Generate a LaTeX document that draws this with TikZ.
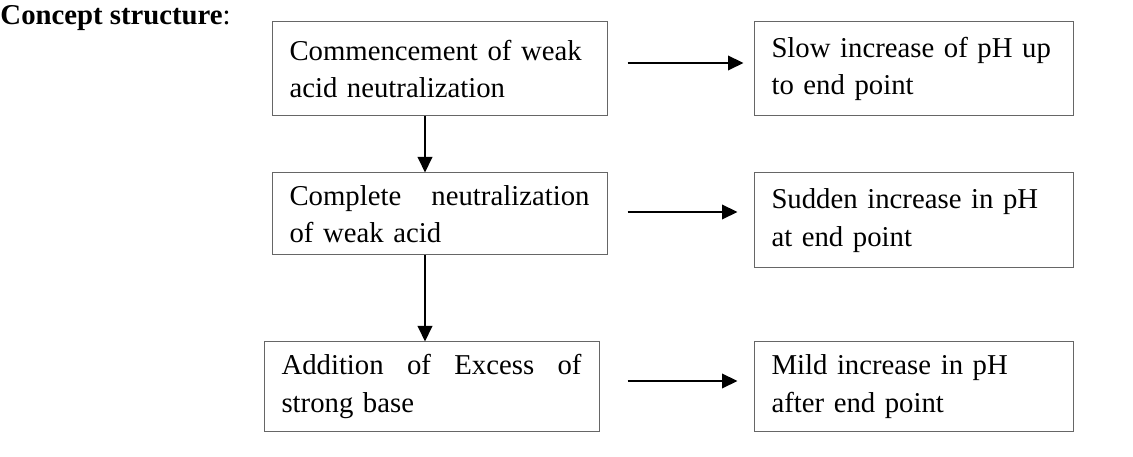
\documentclass[tikz,border=0pt]{standalone}
\usepackage{fontspec}
\setmainfont{Liberation Serif}
\usetikzlibrary{positioning,arrows.meta}

\begin{document}
\begin{tikzpicture}[%
    x=0.4pt,
    y=-0.4pt,
    >={Triangle[length=6.2pt,width=5.8pt]},
    node distance=58.4pt,
    box/.style={%
      rectangle,
      draw=black!60,
      line width=0.4pt,
      font=\fontsize{11.5}{15}\selectfont,
      align=left,
      inner xsep=7pt,
      inner ysep=0pt
    },
    leftbox/.style={box, text width=120pt, minimum height=#1},
    rightbox/.style={box, text width=113.6pt, minimum height=#1},
    flow/.style={->, line width=0.8pt}
  ]
    \useasboundingbox (0,0) rectangle (1133,457);

    \node[anchor=base west, inner sep=0pt, font=\fontsize{11.5}{15}\selectfont] (title) at (0,25) {\textbf{Concept structure}:};

    \node[leftbox=37.6pt] (comm) at (439.5,69)                                  {Commencement of weak\\acid neutralization};
    \node[rightbox=37.6pt, right=of comm.north east, anchor=north west] (slow)     {Slow increase of pH up\\to end point};
    \node[leftbox=32.8pt, below=22.4pt of comm] (compl)                          {Complete\hfill neutralization\\of weak acid};
    \node[rightbox=38pt, right=of compl.north east, anchor=north west] (sudden)    {Sudden increase in pH\\at end point};
    \node[leftbox=35.6pt, below=34.4pt of compl, xshift=-3.2pt] (excess)         {Addition\hfill of\hfill Excess\hfill of\\strong base};
    \node[rightbox=35.6pt, right=61.6pt of excess.north east, anchor=north west] (mild) {Mild increase in pH\\after end point};

    \draw[flow] ([xshift=-5.8pt]comm.south) -- ([xshift=-5.8pt]comm.south |- compl.north);
    \draw[flow] ([xshift=-5.8pt]compl.south) -- ([xshift=-5.8pt]compl.south |- excess.north);
    \draw[flow, shorten <=8pt, shorten >=4pt] ([yshift=2.4pt]comm.east) -- ([yshift=2.4pt]comm.east -| slow.west);
    \draw[flow, shorten <=8pt, shorten >=6.4pt] ([yshift=0.8pt]compl.east) -- ([yshift=0.8pt]compl.east -| sudden.west);
    \draw[flow, shorten <=11.2pt, shorten >=6.4pt] ([yshift=2.2pt]excess.east) -- ([yshift=2.2pt]excess.east -| mild.west);
  \end{tikzpicture}
\end{document}
